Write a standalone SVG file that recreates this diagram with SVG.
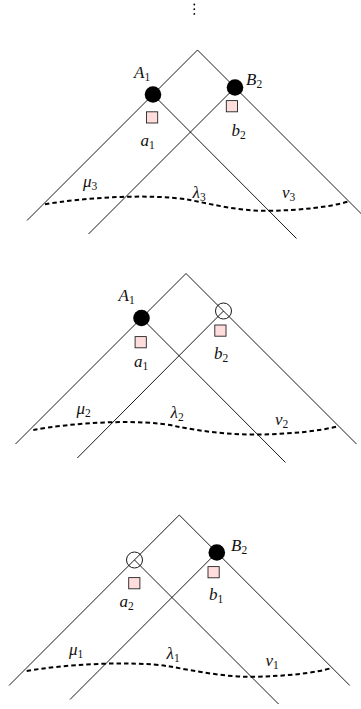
<svg xmlns="http://www.w3.org/2000/svg" width="361" height="709" viewBox="0 0 361 709">
<style>
.ln{stroke:#000;stroke-width:0.9;fill:none}
.dash{stroke:#000;stroke-width:2;fill:none;stroke-dasharray:4.5 3}
.dot{fill:#000}
.hol{fill:none;stroke:#000;stroke-width:0.9}
.sq{fill:#FFDDDD;stroke:#222;stroke-width:0.9}
.t{font-family:"Liberation Serif","DejaVu Serif",serif;font-style:italic;font-size:17px;fill:#111}
.s{font-style:normal;font-size:11.5px}
</style>
<rect width="361" height="709" fill="#fff"/>
<g id="ellipsis" class="dot">
<circle cx="194.3" cy="4.5" r="0.9"/><circle cx="194.3" cy="9.2" r="0.9"/><circle cx="194.3" cy="13.9" r="0.9"/>
</g>
<g id="connectors">
<!-- panel 1 -->
<line class="ln" x1="197.5" y1="50" x2="27" y2="220.5"/>
<line class="ln" x1="197.5" y1="50" x2="368" y2="220.5"/>
<line class="ln" x1="153" y1="94.5" x2="296.5" y2="238.5"/>
<line class="ln" x1="235" y1="87.5" x2="88.5" y2="234"/>
<path class="dash" d="M45,204.3 C80,198 150,193 190,200 C215,205 240,211 267,210.8 C300,210.5 330,207 348.3,201.5"/>
<!-- panel 2 -->
<line class="ln" x1="186" y1="273.5" x2="15.5" y2="444"/>
<line class="ln" x1="186" y1="273.5" x2="356.5" y2="444"/>
<line class="ln" x1="141.5" y1="318" x2="285.5" y2="462.5"/>
<line class="ln" x1="223.5" y1="311" x2="77.3" y2="458"/>
<path class="dash" d="M33.3,430 C70,423 140,418 177,426.5 C202,431.5 232,435 260,434.5 C290,434 320,431 336.7,426.5"/>
<!-- panel 3 -->
<line class="ln" x1="179.3" y1="515" x2="9" y2="685.5"/>
<line class="ln" x1="179.3" y1="515" x2="349.8" y2="685.5"/>
<line class="ln" x1="134.5" y1="560" x2="278.5" y2="704"/>
<line class="ln" x1="216.8" y1="552.5" x2="70" y2="699.5"/>
<path class="dash" d="M26.7,671 C60,665 130,660 170,666.5 C195,671 225,677 250,676.8 C285,676.5 315,673 331.7,668"/>
</g>
<g id="p1-A1"><circle class="dot" cx="153" cy="94.5" r="8.3"/><text class="t" x="134" y="77.5">A<tspan class="s" dy="3">1</tspan></text></g>
<g id="p1-B2"><circle class="dot" cx="235" cy="87.5" r="8.3"/><text class="t" x="246" y="84.5">B<tspan class="s" dy="3">2</tspan></text></g>
<g id="p1-a1"><rect class="sq" x="146.5" y="111.8" width="11.2" height="11.2"/><text class="t" x="140.5" y="146">a<tspan class="s" dy="3">1</tspan></text></g>
<g id="p1-b2"><rect class="sq" x="226.3" y="100.6" width="11.2" height="11.2"/><text class="t" x="231.5" y="135.5">b<tspan class="s" dy="3">2</tspan></text></g>
<g id="p1-labels">
<text class="t" x="83" y="187">μ<tspan class="s" dy="3">3</tspan></text>
<text class="t" x="192.5" y="197.5">λ<tspan class="s" dy="3">3</tspan></text>
<text class="t" x="282" y="198">ν<tspan class="s" dy="3">3</tspan></text>
</g>
<g id="p2-A1"><circle class="dot" cx="141.5" cy="318" r="8.3"/><text class="t" x="118.5" y="301">A<tspan class="s" dy="3">1</tspan></text></g>
<g id="p2-B"><circle class="hol" cx="223.5" cy="311" r="8"/></g>
<g id="p2-a1"><rect class="sq" x="135.1" y="336.6" width="11.2" height="11.2"/><text class="t" x="134" y="367">a<tspan class="s" dy="3">1</tspan></text></g>
<g id="p2-b2"><rect class="sq" x="214.8" y="325" width="11.2" height="11.2"/><text class="t" x="214" y="359.3">b<tspan class="s" dy="3">2</tspan></text></g>
<g id="p2-labels">
<text class="t" x="76.5" y="413.5">μ<tspan class="s" dy="3">2</tspan></text>
<text class="t" x="170.5" y="418">λ<tspan class="s" dy="3">2</tspan></text>
<text class="t" x="275" y="425">ν<tspan class="s" dy="3">2</tspan></text>
</g>
<g id="p3-A"><circle class="hol" cx="134.5" cy="560" r="8"/></g>
<g id="p3-B2"><circle class="dot" cx="216.8" cy="552.5" r="8.3"/><text class="t" x="231" y="550.5">B<tspan class="s" dy="3">2</tspan></text></g>
<g id="p3-a2"><rect class="sq" x="128.7" y="577.6" width="11.2" height="11.2"/><text class="t" x="119.5" y="607">a<tspan class="s" dy="3">2</tspan></text></g>
<g id="p3-b1"><rect class="sq" x="208" y="566.6" width="11.2" height="11.2"/><text class="t" x="209" y="599.5">b<tspan class="s" dy="3">1</tspan></text></g>
<g id="p3-labels">
<text class="t" x="69" y="654.5">μ<tspan class="s" dy="3">1</tspan></text>
<text class="t" x="166.5" y="659">λ<tspan class="s" dy="3">1</tspan></text>
<text class="t" x="265.5" y="665.5">ν<tspan class="s" dy="3">1</tspan></text>
</g>
</svg>
